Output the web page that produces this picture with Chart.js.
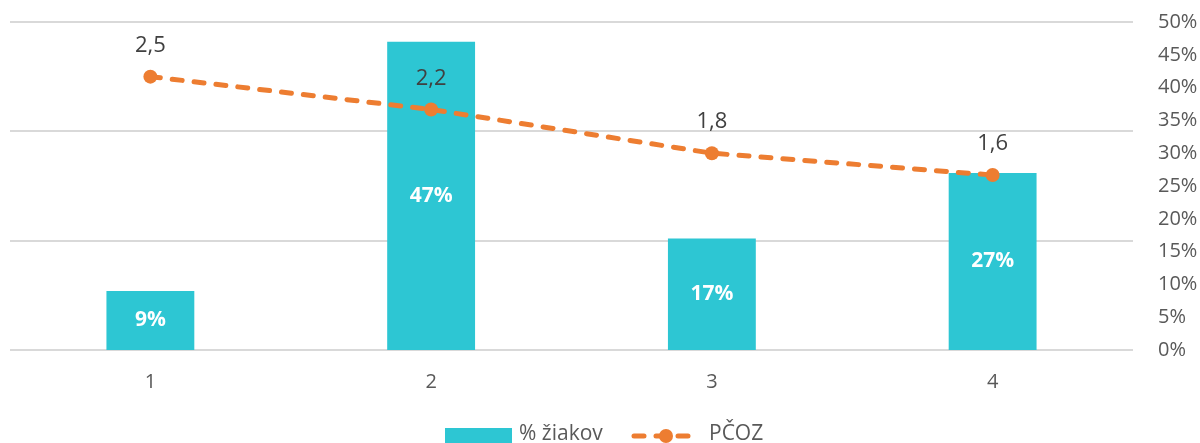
<!DOCTYPE html>
<html>
<head>
<meta charset="utf-8">
<script src="https://cdn.jsdelivr.net/npm/chart.js@4"></script>
<style>
  html, body { margin: 0; padding: 0; background: #fff; }
  #wrap { width: 1200px; height: 443px; }
</style>
</head>
<body>
<div id="wrap"><canvas id="chart" width="1200" height="443"></canvas></div>
<script>
// ── Data ──────────────────────────────────────────────
const categories = ['1', '2', '3', '4'];
const ziakov     = [9, 47, 17, 27];        // % žiakov (right axis)
const pcoz       = [2.5, 2.2, 1.8, 1.6];   // PČOZ (hidden left axis)
const pctTicks   = [0, 5, 10, 15, 20, 25, 30, 35, 40, 45, 50];

const FONT   = "'Open Sans', sans-serif";
const TEAL   = '#2dc6d3';
const ORANGE = '#ed7d31';

/** Draws value labels: white bold in bar middle, dark above line points. */
const valueLabels = {
  id: 'valueLabels',
  afterDatasetsDraw(chart) {
    const ctx = chart.ctx;
    ctx.save();
    ctx.textAlign = 'center';
    ctx.textBaseline = 'middle';
    chart.getDatasetMeta(0).data.forEach((bar, i) => {
      ctx.font = `bold 21px ${FONT}`;
      ctx.fillStyle = '#ffffff';
      ctx.fillText(ziakov[i] + '%', bar.x, (bar.y + bar.base) / 2);
    });
    chart.getDatasetMeta(1).data.forEach((pt, i) => {
      ctx.font = `22px ${FONT}`;
      ctx.fillStyle = '#404040';
      ctx.fillText(String(pcoz[i]).replace('.', ','), pt.x, pt.y - 31);
    });
    ctx.restore();
  },
};

/** Excel-like legend at the bottom. */
const bottomLegend = {
  id: 'bottomLegend',
  afterDraw(chart) {
    const ctx = chart.ctx;
    const y = 434;
    ctx.save();
    ctx.font = `21px ${FONT}`;
    ctx.textBaseline = 'middle';
    // bar item
    ctx.fillStyle = TEAL;
    ctx.fillRect(445, 428, 67, 15);
    ctx.fillStyle = '#595959';
    ctx.fillText(chart.data.datasets[0].label, 519, y);
    // line item
    ctx.strokeStyle = ORANGE;
    ctx.lineWidth = 5;
    ctx.lineCap = 'round';
    ctx.setLineDash([10, 12]);
    ctx.beginPath();
    ctx.moveTo(634, y + 2);
    ctx.lineTo(700, y + 2);
    ctx.stroke();
    ctx.setLineDash([]);
    ctx.fillStyle = ORANGE;
    ctx.beginPath();
    ctx.arc(666, y + 2, 7, 0, Math.PI * 2);
    ctx.fill();
    ctx.fillStyle = '#595959';
    ctx.fillText(chart.data.datasets[1].label, 709, y);
    ctx.restore();
  },
};

// strip the auto label overflow padding so the plot area is set by layout padding
const noPad = s => { s.paddingTop = 0; s.paddingBottom = 0; s.paddingLeft = 0; s.paddingRight = 0; };

new Chart(document.getElementById('chart'), {
  data: {
    labels: categories,
    datasets: [
      {
        type: 'bar',
        label: '% žiakov',
        data: ziakov,
        yAxisID: 'y1',
        backgroundColor: TEAL,
        barPercentage: 1,
        categoryPercentage: 0.313,
        order: 1,
      },
      {
        type: 'line',
        label: 'PČOZ',
        data: pcoz,
        yAxisID: 'y',
        borderColor: ORANGE,
        backgroundColor: ORANGE,
        borderWidth: 5,
        borderDash: [10, 12],
        borderCapStyle: 'round',
        pointRadius: 7,
        pointHoverRadius: 7,
        pointBorderWidth: 0,
        tension: 0,
        order: 0,
      },
    ],
  },
  options: {
    responsive: false,
    animation: false,
    layout: { padding: { left: 10, top: 22, right: 0, bottom: 0 } },
    plugins: { legend: { display: false }, tooltip: { enabled: false } },
    scales: {
      x: {
        grid: { display: false },
        border: { display: false },
        ticks: { color: '#595959', font: { family: FONT, size: 20 }, padding: 12 },
        afterFit: s => { s.height = 93; noPad(s); },
      },
      y: {
        position: 'left',
        min: 0, max: 3,
        ticks: { display: false, stepSize: 1 },
        grid: { color: '#d9d9d9', lineWidth: 2, drawTicks: false },
        border: { display: false },
        afterFit: s => { s.width = 0; noPad(s); },
      },
      y1: {
        position: 'right',
        min: 0, max: 50,
        afterBuildTicks: s => { s.ticks = pctTicks.map(v => ({ value: v })); },
        ticks: {
          color: '#595959',
          font: { family: FONT, size: 20 },
          padding: 17,
          callback: v => v + '%',
        },
        grid: { display: false },
        border: { display: false },
        afterFit: s => { s.width = 67; noPad(s); },
      },
    },
  },
  plugins: [valueLabels, bottomLegend],
});
</script>
</body>
</html>
